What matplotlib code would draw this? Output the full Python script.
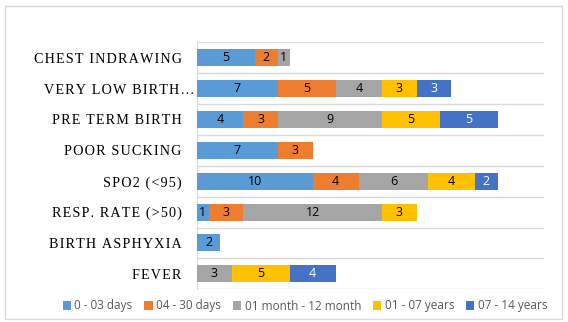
import matplotlib
matplotlib.use("Agg")
import matplotlib.pyplot as plt
from matplotlib.patches import Rectangle
from matplotlib.transforms import ScaledTranslation

# categories top -> bottom
categories = [
    "CHEST INDRAWING",
    "VERY LOW BIRTH\u2026",
    "PRE TERM BIRTH",
    "POOR SUCKING",
    "SPO2 (<95)",
    "RESP. RATE (>50)",
    "BIRTH ASPHYXIA",
    "FEVER",
]

series_names = [
    "0 - 03 days",
    "04 - 30 days",
    "01 month - 12 month",
    "01 - 07 years",
    "07 - 14 years",
]

days_0_3 = [5, 7, 4, 7, 10, 1, 2, 0]
days_4_30 = [2, 5, 3, 3, 4, 3, 0, 0]
month_1_12 = [1, 4, 9, 0, 6, 12, 0, 3]
years_1_7 = [0, 3, 5, 0, 4, 3, 0, 5]
years_7_14 = [0, 3, 5, 0, 2, 0, 0, 4]

series_values = [days_0_3, days_4_30, month_1_12, years_1_7, years_7_14]
colors = ["#5B9BD5", "#ED7D31", "#A5A5A5", "#FFC000", "#4472C4"]
label_colors = ["black", "black", "black", "black", "white"]


def spaced(s):
    # emulate the wide letter spacing of the original labels
    return "\u200a".join(s)


fig = plt.figure(figsize=(5.68, 3.22), dpi=100)
ax = fig.add_axes([197 / 568, 1 - 289.3 / 322, (544 - 197) / 568, (289.3 - 42.3) / 322])

ypos = list(range(len(categories)))
left = [0] * len(categories)
for name, vals, col, lcol in zip(series_names, series_values, colors, label_colors):
    bars = ax.barh(ypos, vals, left=left, height=0.55, color=col, label=name, zorder=3)
    ax.bar_label(
        bars,
        labels=[str(v) if v else "" for v in vals],
        label_type="center",
        color=lcol,
        fontsize=9,
        family="Open Sans",
    )
    left = [a + b for a, b in zip(left, vals)]

ax.set_xlim(0, 30)
ax.set_ylim(len(categories) - 0.5, -0.5)
ax.set_yticks(ypos)
ax.set_yticklabels([spaced(c) for c in categories], family="Liberation Serif",
                   fontsize=10.2, color="black")
ax.tick_params(axis="y", length=0, pad=11)
ax.set_xticks([])

# truncated label sits closer to the axis in the original
lab = ax.get_yticklabels()[1]
lab.set_transform(lab.get_transform() + ScaledTranslation(13 / 100, 0, fig.dpi_scale_trans))

# separator lines between categories
for b in [i - 0.5 for i in range(len(categories) + 1)]:
    ax.axhline(b, color="#D9D9D9", linewidth=1, zorder=1)

for side in ["top", "right", "bottom"]:
    ax.spines[side].set_visible(False)
ax.spines["left"].set_color("#D9D9D9")

fig.legend(
    *ax.get_legend_handles_labels(),
    loc="center",
    bbox_to_anchor=(305 / 568, 1 - 306 / 322),
    ncol=5,
    frameon=False,
    handlelength=0.7,
    handleheight=0.7,
    handletextpad=0.3,
    columnspacing=1.0,
    labelcolor="#595959",
    prop={"family": "Open Sans", "size": 8.5},
)

fig.patches.append(
    Rectangle((5 / 568, 3 / 322), 557 / 568, 313 / 322, transform=fig.transFigure,
              fill=False, edgecolor="#D9D9D9", linewidth=1)
)

fig.savefig("out.png", dpi=100)
